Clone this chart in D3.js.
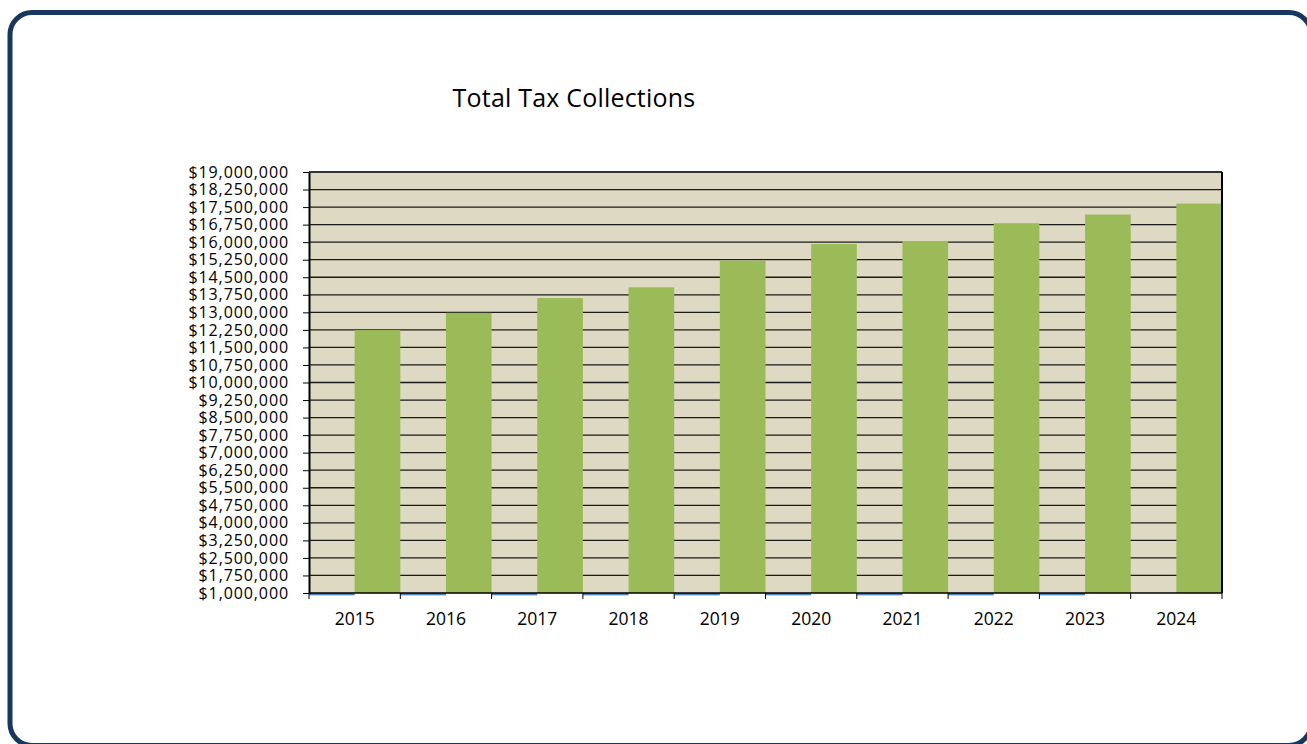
<!DOCTYPE html>
<html>
<head>
<meta charset="utf-8">
<script src="https://cdn.jsdelivr.net/npm/d3@7"></script>
<style>
  html, body { margin: 0; padding: 0; background: #ffffff; }
  svg { display: block; }
  text { font-family: "Open Sans", "Liberation Sans", sans-serif; fill: #000; }
</style>
</head>
<body>
<svg id="chart" width="1307" height="744"></svg>
<script>
// Fiscal years shown on the category axis
const years = ["2015", "2016", "2017", "2018", "2019", "2020", "2021", "2022", "2023", "2024"];

// Total tax collections per year (dollars)
const collections = [12240000, 12980000, 13610000, 14070000, 15210000, 15920000, 16050000, 16810000, 17180000, 17650000];

// Companion series: sits just under the axis floor (no entry for 2024)
const adjustments = [900000, 900000, 900000, 900000, 900000, 900000, 900000, 900000, 900000, null];

// Value-axis tick labels: $1,000,000 to $19,000,000 every $750,000
const yTicks = [1000000, 1750000, 2500000, 3250000, 4000000, 4750000, 5500000, 6250000, 7000000,
  7750000, 8500000, 9250000, 10000000, 10750000, 11500000, 12250000, 13000000, 13750000,
  14500000, 15250000, 16000000, 16750000, 17500000, 18250000, 19000000];

const svg = d3.select("#chart");

// Rounded frame around the whole chart (right and bottom edges run off the page)
svg.append("rect")
  .attr("x", 10).attr("y", 12.5)
  .attr("width", 1301).attr("height", 733)
  .attr("rx", 22).attr("ry", 22)
  .attr("fill", "#ffffff")
  .attr("stroke", "#17375E")
  .attr("stroke-width", 5);

const plot = { left: 309, right: 1222, top: 172, bottom: 593 };

const x = d3.scaleBand().domain(years).range([plot.left, plot.right]).padding(0);
const y = d3.scaleLinear().domain([1000000, 19000000]).range([plot.bottom, plot.top]);
const bw = x.bandwidth();

// Title
svg.append("text")
  .attr("x", 574).attr("y", 107)
  .attr("text-anchor", "middle")
  .style("font-size", "25px")
  .style("letter-spacing", "0.2px")
  .text("Total Tax Collections");

// Plot area background
svg.append("rect")
  .attr("x", plot.left).attr("y", plot.top)
  .attr("width", plot.right - plot.left).attr("height", plot.bottom - plot.top)
  .attr("fill", "#DDD9C3");

// Horizontal gridlines
svg.append("g")
  .selectAll("line")
  .data(yTicks.slice(1, -1))
  .join("line")
  .attr("x1", plot.left).attr("x2", plot.right)
  .attr("y1", d => y(d)).attr("y2", d => y(d))
  .attr("stroke", "#1a1a1a")
  .attr("stroke-width", 1.3);

const rows = years.map((yr, i) => ({ year: yr, total: collections[i], adj: adjustments[i] }));

// Companion series bars (left half of each category), hanging below the floor
svg.append("g")
  .selectAll("rect")
  .data(rows.filter(d => d.adj != null))
  .join("rect")
  .attr("x", d => x(d.year))
  .attr("width", bw / 2)
  .attr("y", d => Math.min(y(d.adj), y(1000000)))
  .attr("height", d => Math.abs(y(d.adj) - y(1000000)))
  .attr("fill", "#4F81BD");

// Collections bars (right half of each category)
svg.append("g")
  .selectAll("rect")
  .data(rows)
  .join("rect")
  .attr("x", d => x(d.year) + bw / 2)
  .attr("width", bw / 2)
  .attr("y", d => y(d.total))
  .attr("height", d => y(1000000) - y(d.total))
  .attr("fill", "#9BBB59");

// Value axis
const yAxis = d3.axisLeft(y)
  .tickValues(yTicks)
  .tickFormat(d3.format("$,.0f"))
  .tickSize(6)
  .tickPadding(14)
  .tickSizeOuter(0);

const gy = svg.append("g")
  .attr("transform", `translate(${plot.left},0)`)
  .call(yAxis);
gy.select(".domain").attr("stroke", "#000").attr("stroke-width", 2);
gy.selectAll(".tick line").attr("stroke", "#000");
gy.selectAll(".tick text")
  .style("font-size", "16px")
  .style("letter-spacing", "0.9px")
  .attr("fill", "#000");

// Category axis labels
const xAxis = d3.axisBottom(x).tickSize(0).tickPadding(20).tickSizeOuter(0);
const gx = svg.append("g")
  .attr("transform", `translate(0,${plot.bottom})`)
  .call(xAxis);
gx.select(".domain").remove();
gx.selectAll(".tick text")
  .style("font-size", "17.5px")
  .attr("fill", "#000");

// Category axis line and boundary tick marks
svg.append("line")
  .attr("x1", plot.left).attr("x2", plot.right)
  .attr("y1", plot.bottom).attr("y2", plot.bottom)
  .attr("stroke", "#000").attr("stroke-width", 1.5);

svg.append("g")
  .selectAll("line")
  .data(years.map(d => x(d)).concat([plot.right]))
  .join("line")
  .attr("x1", d => d).attr("x2", d => d)
  .attr("y1", plot.bottom).attr("y2", plot.bottom + 6)
  .attr("stroke", "#000").attr("stroke-width", 1);

// Top and right edges of the plot area
svg.append("line")
  .attr("x1", plot.left).attr("x2", plot.right)
  .attr("y1", plot.top).attr("y2", plot.top)
  .attr("stroke", "#333").attr("stroke-width", 2);
svg.append("line")
  .attr("x1", plot.right).attr("x2", plot.right)
  .attr("y1", plot.top).attr("y2", plot.bottom)
  .attr("stroke", "#000").attr("stroke-width", 2);
</script>
</body>
</html>
